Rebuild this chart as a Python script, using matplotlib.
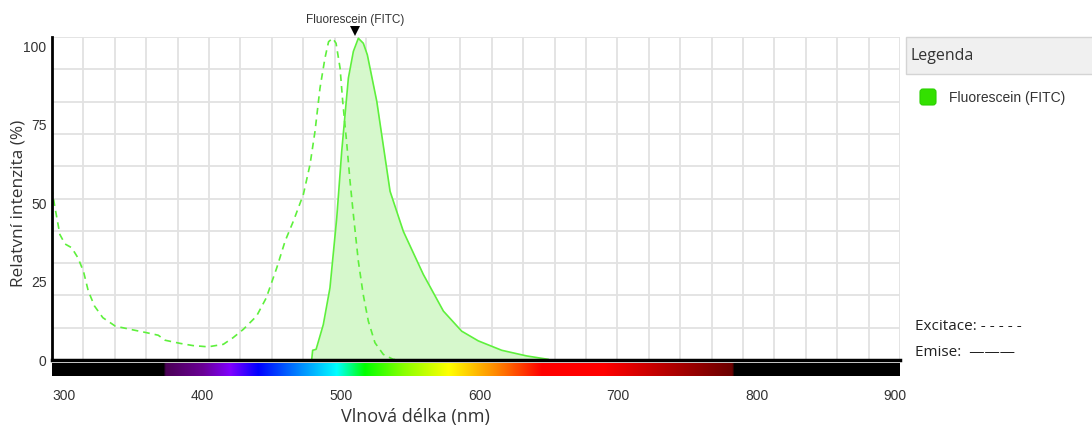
import numpy as np
import matplotlib
matplotlib.use("Agg")
import matplotlib.pyplot as plt
from matplotlib.colors import to_rgb
from matplotlib.patches import Rectangle, FancyBboxPatch
from matplotlib.transforms import offset_copy

# excitation spectrum (dashed)
ex_nm = [291, 293.5, 297, 300.7, 305.5, 310, 314, 317.5, 322, 328, 337, 347.6, 359.7, 368,
         373, 383.8, 393, 404, 415, 422, 429.5, 439, 446, 453.6, 459.6, 465.6, 472.8, 477.6,
         481.2, 484.8, 488.4, 491, 494, 496.4, 499.3, 501.2, 504, 506.5, 508.9, 512.5, 516,
         519.7, 524.5, 530.5, 537.7, 545]
ex_val = [54.9, 48.5, 40, 37, 35.8, 32.6, 28.3, 22, 17.2, 13.5, 10.8, 9.8, 8.7, 7.9,
          6.3, 5.3, 4.6, 4.2, 5.0, 7.1, 9.8, 14, 19.8, 29.4, 37.9, 44.3, 52.8, 62.3,
          72.9, 86.7, 96.3, 101.5, 102.6, 101, 93.1, 82.5, 69.7, 57, 46.4, 31.5, 20.9,
          12.4, 5.5, 1.8, 0.2, 0]

# emission spectrum (solid, filled)
em_nm = [478.8, 479.5, 482, 487.2, 492, 496.9, 500.5, 505.3, 508.9, 512.5, 516.1, 519,
         525.8, 535.4, 545, 559.4, 573.9, 587.1, 599.1, 616, 634, 649.7, 649.8]
em_val = [0, 3.1, 3.4, 11.3, 23, 45.3, 66.6, 89.9, 98.4, 102.6, 101, 97.3,
          82.5, 53.8, 41, 27.3, 15.6, 9.2, 6.1, 3.1, 1.3, 0.2, 0]

dye_name = "Fluorescein (FITC)"
marker_nm = 510
x_ticks = [300, 400, 500, 600, 700, 800, 900]
y_ticks = [0, 25, 50, 75, 100]

# visible spectrum bar stops
spec_nm = [291, 372, 373, 400, 420, 440, 470, 497, 517, 545, 578, 612, 645, 690, 783, 784, 904]
spec_col = ['#000000', '#000000', '#4a0055', '#6a0095', '#8000ff', '#0000ff', '#0088ff',
            '#00ffff', '#00ff00', '#88ff00', '#ffff00', '#ff8800', '#ff0000', '#ff0000',
            '#6a0000', '#000000', '#000000']

W, H = 1092, 425
XMIN, XMAX = 291.3, 903.6
line_c = '#5ef03c'
fill_c = '#d6f8cc'
grid_c = '#e2e2e2'


def box(l, t, r, b):
    return [l / W, 1 - b / H, (r - l) / W, (b - t) / H]


fig = plt.figure(figsize=(W / 100, H / 100), dpi=100)
plt.rcParams['font.family'] = ['Liberation Sans', 'DejaVu Sans']

ax = fig.add_axes(box(52, 37, 900, 360))
ax.set_xlim(XMIN, XMAX)
ax.set_ylim(0, 103)
ax.fill_between(em_nm, em_val, color=fill_c, lw=0)
ax.plot(em_nm, em_val, color=line_c, lw=1.2)
ax.plot(ex_nm, ex_val, color=line_c, lw=1.2, dashes=(4, 3))

ax.set_xticks([])
ax.set_xticks(np.linspace(XMIN, XMAX, 28), minor=True)
ax.set_yticks(y_ticks)
ax.set_yticks(np.linspace(0, 103, 11), minor=True)
ax.tick_params(which='both', length=0)
ax.tick_params(axis='y', labelsize=10, labelcolor='#333333', pad=4)
ax.grid(which='minor', color=grid_c, lw=1.3)
ax.grid(which='major', visible=False)
ax.set_axisbelow(True)
for s in ['top', 'right']:
    ax.spines[s].set_visible(False)
ax.spines['left'].set_linewidth(2)
ax.spines['bottom'].set_linewidth(2.5)
ax.set_ylabel("Relatvní intenzita (%)", family='Open Sans', fontsize=12.4, color='#333333')
ax.yaxis.set_label_coords(-0.03, 0.486)

# peak marker and name
tr = ax.get_xaxis_transform()
ax.plot([marker_nm], [1.0], marker='v', color='black', ms=7, mew=0, clip_on=False,
        transform=offset_copy(tr, fig=fig, y=4.5, units='points'))
ax.annotate(dye_name, (marker_nm, 1.0), xycoords=tr, xytext=(0, 8),
            textcoords='offset points', ha='center', va='bottom', fontsize=8.5, color='#333333')

# spectrum bar
bx = fig.add_axes(box(52, 363, 900, 376))
grid_nm = np.linspace(XMIN, XMAX, 800)
rgb = np.array([to_rgb(c) for c in spec_col])
img = np.stack([np.interp(grid_nm, spec_nm, rgb[:, i]) for i in range(3)], axis=-1)[None, :, :]
bx.imshow(img, extent=[XMIN, XMAX, 0, 1], aspect='auto')
bx.set_xlim(XMIN, XMAX)
bx.set_yticks([])
bx.set_xticks(x_ticks)
bx.tick_params(axis='x', length=0, pad=9, labelsize=10, labelcolor='#333333')
for s in bx.spines.values():
    s.set_visible(False)
bx.set_xlabel("Vlnová délka (nm)", family='Open Sans', fontsize=13, color='#333333')
bx.xaxis.set_label_coords(0.429, -2.45)

# legend panel
ov = fig.add_axes([0, 0, 1, 1])
ov.set_xlim(0, W)
ov.set_ylim(H, 0)
ov.axis('off')
ov.add_patch(Rectangle((906, 37), 190, 37, facecolor='#f0f0f0', edgecolor='#d4d4d4', lw=1))
ov.text(911, 56, "Legenda", family='Open Sans', fontsize=11.5, color='#333333', va='center')
ov.add_patch(FancyBboxPatch((920, 89), 16, 16, boxstyle='round,pad=0,rounding_size=3',
                            facecolor='#33e000', edgecolor='#2ad000', lw=0.8))
ov.text(949, 98, dye_name, fontsize=10, color='#333333', va='center')
ov.text(915, 327, "Excitace: - - - - -", family='Open Sans', fontsize=11, color='#222222', va='center')
ov.text(915, 352, "Emise:  \u2014\u2014\u2014", family='Open Sans', fontsize=11, color='#222222', va='center')

fig.savefig("out.png", dpi=100)
